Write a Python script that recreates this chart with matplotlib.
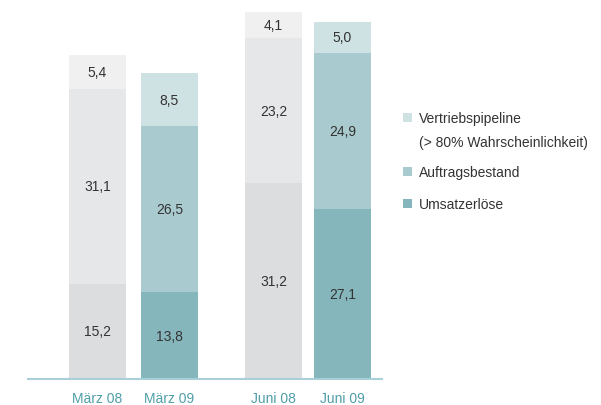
import matplotlib.pyplot as plt
from matplotlib.patches import Rectangle

# Daten (Mio. EUR)
kategorien = ['März 08', 'März 09', 'Juni 08', 'Juni 09']
umsatz = [15.2, 13.8, 31.2, 27.1]
auftrag = [31.1, 26.5, 23.2, 24.9]
pipeline = [5.4, 8.5, 4.1, 5.0]
legende = ['Vertriebspipeline\n(> 80% Wahrscheinlichkeit)', 'Auftragsbestand', 'Umsatzerlöse']

# Farben: Vorjahr grau, aktuelles Jahr petrol
grau = ['#dcdddf', '#e6e7e9', '#f0f0f0']
teal = ['#85b6bc', '#a9cbcf', '#cfe2e3']
farben = [grau, teal, grau, teal]

plt.rcParams['font.family'] = ['Liberation Sans', 'DejaVu Sans']

fig = plt.figure(figsize=(6.01, 4.06), dpi=100)
W, H = 601, 406
# Achse in Pixel: x 28..382, Grundlinie bei y=380
ax = fig.add_axes([28 / W, 26 / H, 354 / W, 380 / H])

x = [69.5, 141.5, 245.5, 314.5]
breite = 57
px_pro_einheit = 6.27
ax.set_xlim(0, 354)
ax.set_ylim(0, 380 / px_pro_einheit)

for i in range(len(kategorien)):
    unten = 0
    for j, wert in enumerate([umsatz[i], auftrag[i], pipeline[i]]):
        ax.bar(x[i], wert, bottom=unten, width=breite, color=farben[i][j], linewidth=0)
        ax.text(x[i], unten + wert / 2, f'{wert:.1f}'.replace('.', ','),
                ha='center', va='center', fontsize=10, color='#333333')
        unten += wert

ax.set_xticks(x)
ax.set_xticklabels(kategorien, fontsize=10, color='#4f9ea8')
ax.tick_params(axis='x', length=0, pad=9)
ax.set_yticks([])
for s in ['top', 'right', 'left']:
    ax.spines[s].set_visible(False)
ax.spines['bottom'].set_color('#a9d0d6')
ax.spines['bottom'].set_linewidth(1.5)

# Legende von Hand
leg_farben = [teal[2], teal[1], teal[0]]
leg_y = [118.5, 172.5, 204.5]
for farbe, text, y in zip(leg_farben, legende, leg_y):
    fig.patches.append(Rectangle((403 / W, 1 - (y + 4.5) / H), 9 / W, 9 / H,
                                 transform=fig.transFigure, color=farbe, linewidth=0))
    fig.text(419 / W, 1 - (y - 6) / H, text, fontsize=10, color='#333333',
             va='top', ha='left', linespacing=1.9)

fig.savefig('out.png', dpi=100)
